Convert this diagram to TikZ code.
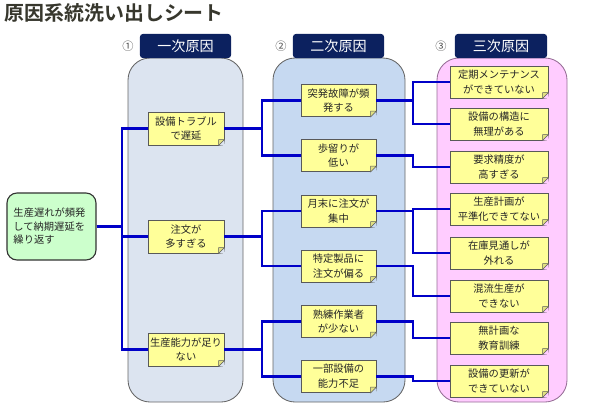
\documentclass[tikz,border=0pt]{standalone}
\usepackage{fontspec}
\setmainfont{Noto Sans CJK JP}[BoldFont={Noto Sans CJK JP Bold}]
\definecolor{linkblue}{RGB}{0,0,200}
\definecolor{headnavy}{RGB}{12,33,95}
\definecolor{panelA}{RGB}{220,228,240}
\definecolor{panelB}{RGB}{198,217,241}
\definecolor{panelC}{RGB}{255,204,255}
\definecolor{panelCline}{RGB}{150,110,150}
\definecolor{noteyellow}{RGB}{255,255,153}
\definecolor{notefold}{RGB}{225,225,130}
\definecolor{rootgreen}{RGB}{204,255,204}
\definecolor{titlecol}{RGB}{55,55,45}
\begin{document}
\begin{tikzpicture}
	[x=0.025cm,y=-0.025cm,
	link/.style={draw=linkblue,line width=1.8pt},
	panel/.style={draw=gray!80!black,line width=0.6pt,rounded corners=0.55cm},
	head/.style={fill=headnavy,text=white,rounded corners=2pt,minimum height=0.6cm,font=\fontsize{10}{12}\selectfont},
	num/.style={font=\fontsize{8}{10}\selectfont,text=black!70},
	note/.style={draw=gray!70!black,fill=noteyellow,align=center,inner sep=1pt,text=black!85,font=\fontsize{7.3}{10.5}\selectfont},
	first/.style={note,minimum width=1.9cm,minimum height=0.825cm},
	second/.style={note,minimum width=1.875cm,minimum height=0.8cm},
	third/.style={note,minimum width=2.45cm,minimum height=0.8cm},
	fold/.style={draw=gray!70!black,fill=notefold,line width=0.4pt}]
	\useasboundingbox (0,0) rectangle (600,415);
	% title
	\node[anchor=west,inner sep=0pt,text=titlecol,font=\fontsize{14.2}{16}\selectfont\bfseries,name=title]at(4,13){原因系統洗い出しシート};
	% panels
	\draw[panel,fill=panelA](128,58) rectangle (243,402);
	\draw[panel,fill=panelB](273,58) rectangle (405,402);
	\draw[panel,fill=panelC,draw=panelCline](437,58) rectangle (567,402);
	% headers
	\node[head,minimum width=2.275cm,name=h1]at(185.5,46){一次原因};
	\node[head,minimum width=2.275cm,name=h2]at(338.5,46){二次原因};
	\node[head,minimum width=2.3cm,name=h3]at(501,46){三次原因};
	\node[num,name=n1]at(128,46){①};
	\node[num,name=n2]at(281,46){②};
	\node[num,name=n3]at(441,46){③};
	% root
	\node[draw=gray!40!black,line width=0.8pt,fill=rootgreen,rounded corners=0.25cm,minimum width=2.225cm,minimum height=1.675cm,text width=1.9cm,align=left,inner sep=2pt,text=black!85,font=\fontsize{7.3}{9.6}\selectfont,name=root]at(51.5,226.5){生産遅れが頻発\\して納期遅延を\\繰り返す};
	% first causes
	\node[first,name=c1a]at(186,128.5){設備トラブル\\で遅延};
	\node[first,name=c1b]at(186,236.5){注文が\\多すぎる};
	\node[first,name=c1c]at(186,349.5){生産能力が足り\\ない};
	% second causes
	\node[second,name=c2a]at(338.5,100.5){突発故障が頻\\発する};
	\node[second,name=c2b]at(338.5,155.5){歩留りが\\低い};
	\node[second,name=c2c]at(338.5,211){月末に注文が\\集中};
	\node[second,name=c2d]at(338.5,266){特定製品に\\注文が偏る};
	\node[second,name=c2e]at(338.5,321.5){熟練作業者\\が少ない};
	\node[second,name=c2f]at(338.5,376.5){一部設備の\\能力不足};
	% third causes
	\node[third,name=c3a]at(499,82){定期メンテナンス\\ができていない};
	\node[third,name=c3b]at(499,124){設備の構造に\\無理がある};
	\node[third,name=c3c]at(499,167){要求精度が\\高すぎる};
	\node[third,name=c3d]at(499,209){生産計画が\\平準化できてない};
	\node[third,name=c3e]at(499,253){在庫見通しが\\外れる};
	\node[third,name=c3f]at(499,296){混流生産が\\できない};
	\node[third,name=c3g]at(499,338){無計画な\\教育訓練};
	\node[third,name=c3h]at(499,381){設備の更新が\\できていない};
	% folded corners
	\foreach \n/\c in {c1a/panelA,c1b/panelA,c1c/panelA,c2a/panelB,c2b/panelB,c2c/panelB,c2d/panelB,c2e/panelB,c2f/panelB,c3a/panelC,c3b/panelC,c3c/panelC,c3d/panelC,c3e/panelC,c3f/panelC,c3g/panelC,c3h/panelC}{
		\fill[\c]([xshift=-4pt]\n.south east) -- ([shift={(0.5pt,-0.5pt)}]\n.south east) -- ([yshift=4pt]\n.south east) -- cycle;
		\draw[fold]([xshift=-4pt]\n.south east) -- ([yshift=4pt]\n.south east) -- ([shift={(-4pt,4pt)}]\n.south east) -- cycle;
	}
	% buses
	\coordinate (b1) at (122,0);
	\coordinate (b2) at (262,0);
	\coordinate (b3) at (413,0);
	% connectors
	\foreach \n in {c1a,c1b,c1c}
		\draw[link](root.east) -- (root.east -| b1) |- (\n.west);
	\foreach \a/\b in {c1a/c2a,c1a/c2b,c1b/c2c,c1b/c2d,c1c/c2e,c1c/c2f}
		\draw[link](\a.east) -- (\a.east -| b2) |- (\b.west);
	\foreach \a/\b in {c2a/c3a,c2a/c3b,c2b/c3c,c2c/c3d,c2c/c3e,c2d/c3f,c2e/c3g,c2f/c3h}
		\draw[link](\a.east) -- (\a.east -| b3) |- (\b.west);
\end{tikzpicture}
\end{document}
